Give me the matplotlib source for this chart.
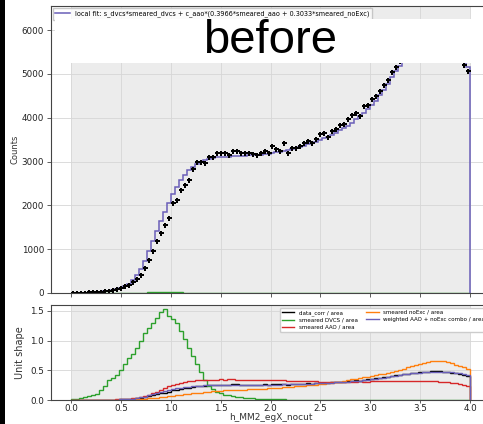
import numpy as np
import matplotlib
matplotlib.use('Agg')
import matplotlib.pyplot as plt
from matplotlib.patches import Rectangle

# binning of h_MM2_egX_nocut: 100 bins of 0.04 from 0 to 4
edges = np.linspace(0.0, 4.0, 101)
centers = 0.5 * (edges[:-1] + edges[1:])
width = edges[1] - edges[0]

data_counts = [
    4, 6, 8, 10, 14, 18, 24, 30, 40, 52,
    68, 90, 118, 150, 190, 250, 320, 420, 560, 760,
    950, 1180, 1360, 1560, 1720, 2060, 2120, 2360, 2460, 2590,
    2820, 2990, 3000, 2960, 3110, 3110, 3200, 3200, 3185, 3140,
    3245, 3245, 3200, 3200, 3200, 3170, 3150, 3185, 3245, 3200,
    3355, 3290, 3245, 3430, 3200, 3315, 3315, 3355, 3415, 3475,
    3430, 3505, 3630, 3660, 3550, 3700, 3735, 3830, 3855, 3965,
    4060, 4100, 4040, 4265, 4290, 4420, 4500, 4610, 4740, 4860,
    5040, 5150, 5300, 5420, 5520, 5640, 5720, 5800, 5880, 5950,
    5990, 6010, 5980, 5930, 5850, 5700, 5560, 5380, 5200, 5060,
]

combo_counts = [
    3, 4, 6, 8, 11, 15, 20, 27, 36, 48,
    64, 85, 112, 150, 205, 290, 400, 540, 720, 950,
    1180, 1420, 1640, 1850, 2050, 2250, 2420, 2570, 2700, 2800,
    2880, 2940, 2990, 3030, 3060, 3080, 3095, 3105, 3110, 3115,
    3120, 3125, 3130, 3135, 3140, 3145, 3150, 3160, 3170, 3180,
    3195, 3210, 3225, 3245, 3265, 3285, 3310, 3335, 3360, 3390,
    3420, 3455, 3490, 3530, 3570, 3615, 3660, 3710, 3765, 3820,
    3890, 3960, 4030, 4110, 4190, 4280, 4390, 4510, 4640, 4780,
    4920, 5060, 5190, 5310, 5420, 5520, 5610, 5690, 5760, 5820,
    5860, 5880, 5880, 5860, 5820, 5750, 5650, 5520, 5360, 5150,
]

dvcs_shape = [
    0.017, 0.02, 0.03, 0.056, 0.06, 0.08, 0.10, 0.17, 0.24, 0.33,
    0.37, 0.42, 0.50, 0.60, 0.70, 0.78, 0.88, 1.00, 1.13, 1.22,
    1.30, 1.38, 1.48, 1.53, 1.42, 1.37, 1.30, 1.16, 1.02, 0.88,
    0.74, 0.60, 0.48, 0.34, 0.23, 0.18, 0.14, 0.11, 0.09, 0.08,
    0.065, 0.055, 0.045, 0.04, 0.035, 0.03, 0.025, 0.02, 0.018, 0.015,
    0.012, 0.01, 0.009, 0.009, 0.008, 0.008, 0.007, 0.007, 0.007, 0.006,
    0.006, 0.006, 0.006, 0.005, 0.005, 0.005, 0.005, 0.005, 0.005, 0.004,
    0.004, 0.004, 0.004, 0.004, 0.004, 0.004, 0.004, 0.004, 0.003, 0.003,
    0.003, 0.003, 0.003, 0.003, 0.003, 0.003, 0.003, 0.003, 0.003, 0.003,
    0.003, 0.003, 0.003, 0.003, 0.003, 0.003, 0.003, 0.003, 0.003, 0.003,
]

aao_shape = [
    0, 0, 0, 0, 0.001, 0.001, 0.002, 0.003, 0.004, 0.005,
    0.007, 0.009, 0.012, 0.016, 0.022, 0.03, 0.04, 0.055, 0.07, 0.09,
    0.115, 0.14, 0.17, 0.2, 0.23, 0.25, 0.27, 0.285, 0.3, 0.315,
    0.325, 0.333, 0.338, 0.34, 0.342, 0.343, 0.345, 0.346, 0.345, 0.347,
    0.346, 0.345, 0.344, 0.345, 0.343, 0.342, 0.341, 0.34, 0.339, 0.338,
    0.336, 0.334, 0.331, 0.329, 0.326, 0.324, 0.321, 0.319, 0.317, 0.315,
    0.313, 0.312, 0.311, 0.31, 0.31, 0.309, 0.31, 0.309, 0.31, 0.311,
    0.31, 0.311, 0.312, 0.31, 0.311, 0.312, 0.313, 0.312, 0.314, 0.315,
    0.314, 0.316, 0.317, 0.318, 0.318, 0.319, 0.32, 0.32, 0.319, 0.318,
    0.316, 0.313, 0.309, 0.304, 0.297, 0.289, 0.28, 0.27, 0.258, 0.24,
]

noexc_shape = [
    0, 0, 0, 0, 0, 0, 0, 0.001, 0.001, 0.002,
    0.002, 0.003, 0.004, 0.005, 0.007, 0.009, 0.012, 0.016, 0.021, 0.027,
    0.034, 0.042, 0.05, 0.058, 0.066, 0.074, 0.082, 0.09, 0.098, 0.105,
    0.112, 0.119, 0.126, 0.133, 0.14, 0.146, 0.152, 0.157, 0.161, 0.165,
    0.168, 0.17, 0.172, 0.175, 0.178, 0.181, 0.184, 0.188, 0.192, 0.196,
    0.2, 0.205, 0.21, 0.215, 0.22, 0.225, 0.23, 0.236, 0.242, 0.248,
    0.253, 0.258, 0.264, 0.272, 0.28, 0.29, 0.3, 0.31, 0.322, 0.334,
    0.346, 0.358, 0.37, 0.38, 0.39, 0.4, 0.415, 0.43, 0.445, 0.46,
    0.478, 0.495, 0.51, 0.53, 0.55, 0.57, 0.59, 0.61, 0.625, 0.64,
    0.655, 0.662, 0.66, 0.65, 0.635, 0.615, 0.595, 0.575, 0.555, 0.53,
]

fit_label = 'local fit: s_dvcs*smeared_dvcs + c_aao*(0.3966*smeared_aao + 0.3033*smeared_noExc)'

data_counts = np.array(data_counts, dtype=float)
combo_counts = np.array(combo_counts, dtype=float)
data_area = data_counts / (data_counts.sum() * width)
combo_area = combo_counts / (combo_counts.sum() * width)

c_data = 'black'
c_dvcs = '#2ca02c'
c_aao = '#d62728'
c_noexc = '#ff7f0e'
c_combo = '#6a5fb8'
c_shade = '#ececec'
c_grid = '#d6d6d6'
c_spine = '#444444'

fig = plt.figure(figsize=(4.83, 4.24), dpi=100)
ax1 = fig.add_axes([51 / 483, 131 / 424, 439 / 483, 287 / 424])
ax2 = fig.add_axes([51 / 483, 24 / 424, 439 / 483, 95 / 424], sharex=ax1)

for ax in (ax1, ax2):
    ax.axvspan(0, 4, color=c_shade, zorder=0, lw=0)
    ax.set_axisbelow(True)
    ax.grid(True, color=c_grid, lw=0.6)
    for s in ax.spines.values():
        s.set_color(c_spine)
        s.set_linewidth(0.8)
    ax.tick_params(labelsize=6.3, length=3, width=0.6, pad=2,
                   colors=c_spine, labelcolor='#222222')
ax2.tick_params(axis='x', length=2.5, pad=0.5)

# top: counts
ax1.stairs(np.array(dvcs_shape) * 10, edges, baseline=0, color=c_dvcs, lw=1.0)
ax1.stairs(combo_counts, edges, baseline=0, color=c_combo, lw=1.1, label=fit_label)
ax1.plot(centers, data_counts, 'P', color=c_data, ms=3.6, mew=0)
ax1.set_xlim(-0.2, 4.2)
ax1.set_ylim(0, 6550)
ax1.set_yticks([0, 1000, 2000, 3000, 4000, 5000, 6000])
ax1.set_ylabel('Counts', fontsize=6, color='#333333')
ax1.yaxis.set_label_coords(-0.071, 0.5)
ax1.tick_params(labelbottom=False)
ax1.legend(loc='upper left', fontsize=4.7, frameon=True, borderaxespad=0.25,
           handlelength=2.2, fancybox=False, edgecolor='#bbbbbb')

# bottom: unit shapes
ax2.stairs(data_area, edges, baseline=0, color=c_data, lw=1.0, label='data_corr / area')
ax2.stairs(dvcs_shape, edges, baseline=0, color=c_dvcs, lw=1.0, label='smeared DVCS / area')
ax2.stairs(aao_shape, edges, baseline=0, color=c_aao, lw=1.0, label='smeared AAO / area')
ax2.stairs(noexc_shape, edges, baseline=0, color=c_noexc, lw=1.0, label='smeared noExc / area')
ax2.stairs(combo_area, edges, baseline=0, color=c_combo, lw=1.0, label='weighted AAO + noExc combo / area')
ax2.set_ylim(0, 1.6)
ax2.set_yticks([0.0, 0.5, 1.0, 1.5])
ax2.set_xticks([0.0, 0.5, 1.0, 1.5, 2.0, 2.5, 3.0, 3.5, 4.0])
ax2.set_ylabel('Unit shape', fontsize=7, color='#333333')
ax2.yaxis.set_label_coords(-0.06, 0.5)
ax2.set_xlabel('h_MM2_egX_nocut', fontsize=6.5, color='#333333')
ax2.xaxis.set_label_coords(0.5, -0.14)
ax2.legend(loc='upper right', ncol=2, fontsize=4.0, frameon=True, borderaxespad=0.5,
           labelspacing=0.35, handlelength=2.2, columnspacing=1.6, fancybox=True,
           edgecolor='#cccccc', framealpha=1.0)

# screenshot overlays: black strip on the left, white label box with "before"
fig.patches.append(Rectangle((0, 0), 5 / 483, 1, transform=fig.transFigure,
                             facecolor='black', edgecolor='none', zorder=10))
fig.patches.append(Rectangle((55 / 483, 361 / 424), 428 / 483, 44 / 424, transform=fig.transFigure,
                             facecolor='white', edgecolor='none', zorder=10))
fig.text(270 / 483, 1 - 41 / 424, 'before', fontsize=34, family='Liberation Sans',
         ha='center', va='center', color='black', zorder=11)

fig.savefig('out.png', dpi=100)
